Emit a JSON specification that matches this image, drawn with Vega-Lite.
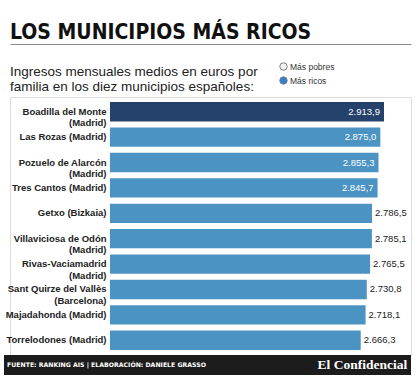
{
  "$schema": "https://vega.github.io/schema/vega-lite/v6.json",
  "autosize": "none",
  "width": 401,
  "height": 258,
  "padding": {"left": 10, "right": 9, "top": 97, "bottom": 25},
  "background": "white",
  "title": {
    "text": "LOS MUNICIPIOS MÁS RICOS",
    "subtitle": ["Ingresos mensuales medios en euros por", "familia en los diez municipios españoles:"],
    "anchor": "start",
    "frame": "group",
    "offset": -49,
    "font": "Liberation Sans Narrow, DejaVu Sans Condensed, Roboto Condensed, Arial Narrow, sans-serif",
    "fontSize": 21,
    "fontWeight": "bold",
    "color": "#111111",
    "subtitleFont": "Liberation Sans, Arial, sans-serif",
    "subtitleFontSize": 13.5,
    "subtitleColor": "#222222",
    "subtitlePadding": 22,
    "subtitleLineHeight": 14.5
  },
  "datasets": {
    "municipios": [
      {"municipio": "Boadilla del Monte (Madrid)", "ingresos": 2913.9},
      {"municipio": "Las Rozas (Madrid)", "ingresos": 2875.0},
      {"municipio": "Pozuelo de Alarcón (Madrid)", "ingresos": 2855.3},
      {"municipio": "Tres Cantos (Madrid)", "ingresos": 2845.7},
      {"municipio": "Getxo (Bizkaia)", "ingresos": 2786.5},
      {"municipio": "Villaviciosa de Odón (Madrid)", "ingresos": 2785.1},
      {"municipio": "Rivas-Vaciamadrid (Madrid)", "ingresos": 2765.5},
      {"municipio": "Sant Quirze del Vallès (Barcelona)", "ingresos": 2730.8},
      {"municipio": "Majadahonda (Madrid)", "ingresos": 2718.1},
      {"municipio": "Torrelodones (Madrid)", "ingresos": 2666.3}
    ],
    "opciones": [
      {"opcion": "Más pobres"},
      {"opcion": "Más ricos"}
    ],
    "pie": [
      {"medio": "El Confidencial"}
    ]
  },
  "layer": [
    {
      "data": {"name": "municipios"},
      "mark": {"type": "bar"},
      "encoding": {
        "y": {
          "field": "municipio", "type": "nominal",
          "sort": {"field": "ingresos", "order": "descending"},
          "scale": {"paddingInner": 0.24, "paddingOuter": 0.2},
          "axis": {
            "title": null, "orient": "left", "offset": -100,
            "domain": false, "ticks": false, "labelPadding": 4,
            "labelFont": "Liberation Sans, Arial, sans-serif", "labelFontWeight": "bold",
            "labelFontSize": 9.5, "labelColor": "#222222", "labelLineHeight": 11.5,
            "labelLimit": 200,
            "labelExpr": "length(datum.label) > 22 ? [slice(datum.label, 0, indexof(datum.label, ' (')), slice(datum.label, indexof(datum.label, ' (') + 1)] : datum.label"
          }
        },
        "x": {
          "field": "ingresos", "type": "quantitative",
          "scale": {"domain": [-1063, 3201], "zero": false, "nice": false},
          "axis": {
            "orient": "top", "offset": 53, "title": null, "labels": false, "ticks": false,
            "grid": false, "domain": true, "domainColor": "#8a8a8a", "domainWidth": 1
          }
        },
        "x2": {"datum": 0},
        "color": {
          "condition": {"test": "datum.municipio === 'Boadilla del Monte (Madrid)'", "value": "#24426b"},
          "value": "#4a93c3"
        }
      }
    },
    {
      "data": {"name": "municipios"},
      "transform": [{"filter": "datum.ingresos > 2800"}],
      "mark": {"type": "text", "align": "right", "dx": -4, "font": "Liberation Sans, Arial, sans-serif", "fontSize": 9.5, "color": "white"},
      "encoding": {
        "y": {"field": "municipio", "type": "nominal", "sort": {"field": "ingresos", "order": "descending"}},
        "x": {"field": "ingresos", "type": "quantitative"},
        "text": {"field": "ingresos", "type": "quantitative", "format": ",.1f"}
      }
    },
    {
      "data": {"name": "municipios"},
      "transform": [{"filter": "datum.ingresos <= 2800"}],
      "mark": {"type": "text", "align": "left", "dx": 3, "font": "Liberation Sans, Arial, sans-serif", "fontSize": 9.5, "color": "#222222"},
      "encoding": {
        "y": {"field": "municipio", "type": "nominal", "sort": {"field": "ingresos", "order": "descending"}},
        "x": {"field": "ingresos", "type": "quantitative"},
        "text": {"field": "ingresos", "type": "quantitative", "format": ",.1f"}
      }
    },
    {
      "data": {"name": "opciones"},
      "mark": {"type": "point", "filled": true, "opacity": 0},
      "encoding": {
        "fill": {
          "field": "opcion", "type": "nominal",
          "scale": {"domain": ["Más pobres", "Más ricos"], "range": ["#f2f2f2", "#2f80d0"]},
          "legend": {
            "title": null, "orient": "none", "legendX": 269, "legendY": -35,
            "symbolType": "circle", "symbolSize": 55, "rowPadding": 1, "labelOffset": 2,
            "labelFont": "Liberation Sans, Arial, sans-serif", "labelFontSize": 8.5, "labelColor": "#333333",
            "encode": {
              "symbols": {"update": {"opacity": {"value": 1}, "stroke": {"value": "#7d7d7d"}, "strokeWidth": {"value": 1}}}
            }
          }
        }
      }
    },
    {
      "data": {"name": "pie"},
      "mark": {"type": "point", "opacity": 0},
      "encoding": {
        "shape": {
          "field": "medio", "type": "nominal",
          "legend": {
            "title": "FUENTE: RANKING AIS | ELABORACIÓN: DANIELE GRASSO",
            "orient": "none", "legendX": -6, "legendY": 258,
            "fillColor": "#1c1c1c", "padding": 3,
            "titleOrient": "left", "titleColor": "white", "titleFont": "DejaVu Sans, sans-serif",
            "titleFontSize": 6.2, "titleFontWeight": "bold", "titlePadding": 98, "titleBaseline": "middle",
            "titleLimit": 400,
            "symbolSize": 0, "symbolOpacity": 0, "symbolStrokeWidth": 0, "labelOffset": 0,
            "labelFont": "Liberation Serif, DejaVu Serif, serif", "labelFontWeight": "bold",
            "labelFontSize": 13.5, "labelColor": "white"
          }
        }
      }
    }
  ],
  "config": {
    "locale": {"number": {"decimal": ",", "thousands": ".", "grouping": [3], "currency": ["", " €"]}},
    "view": {"stroke": "#dddddd"}
  }
}
